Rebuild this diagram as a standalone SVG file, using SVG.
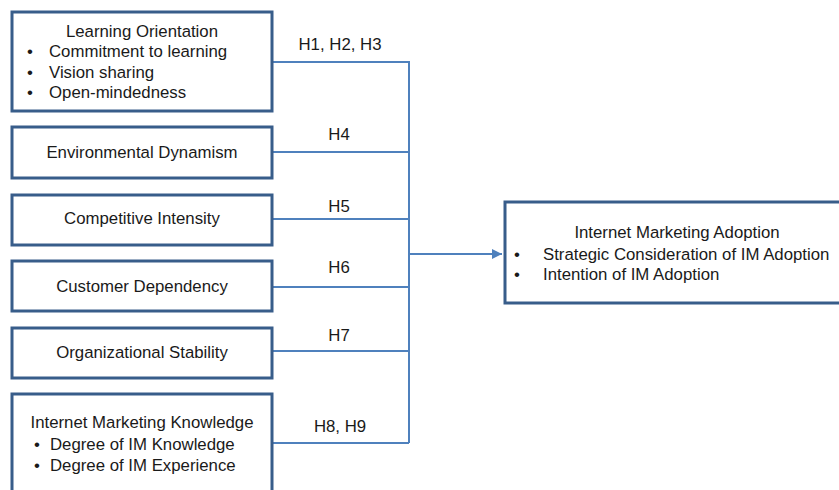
<svg xmlns="http://www.w3.org/2000/svg" width="839" height="490" viewBox="0 0 839 490">
<defs>
<style>
.box{fill:#fff;stroke:#385D8A;stroke-width:3}
.t{font-family:"Liberation Sans",Arial,sans-serif;font-size:16.8px;fill:#1a1a1a}
.c{text-anchor:middle}
.ln{fill:none;stroke:#4F81BD;stroke-width:2}
</style>
<marker id="ah" viewBox="0 0 10 10" refX="10" refY="5" markerWidth="5" markerHeight="5" orient="auto" markerUnits="strokeWidth">
<path d="M0,0 L10,5 L0,10 z" fill="#4F81BD"/>
</marker>
</defs>
<rect width="839" height="490" fill="#fff"/>
<g id="connectors">
<path class="ln" d="M272,62 H409 V443 M272,152 H409 M272,219 H409 M272,287 H409 M272,351 H409 M272,443 H409"/>
<path class="ln" d="M409,254 H502" marker-end="url(#ah)"/>
<text class="t c" x="340" y="50">H1, H2, H3</text>
<text class="t c" x="339" y="140">H4</text>
<text class="t c" x="339" y="212">H5</text>
<text class="t c" x="339" y="273">H6</text>
<text class="t c" x="339" y="341">H7</text>
<text class="t c" x="340" y="432">H8, H9</text>
</g>
<g id="learning">
<rect class="box" x="12" y="12" width="260" height="99"/>
<text class="t c" x="142" y="37">Learning Orientation</text>
<text class="t" x="27" y="57">•</text><text class="t" x="49" y="57">Commitment to learning</text>
<text class="t" x="27" y="78">•</text><text class="t" x="49" y="78">Vision sharing</text>
<text class="t" x="27" y="98">•</text><text class="t" x="49" y="98">Open-mindedness</text>
</g>
<g id="env">
<rect class="box" x="12" y="127" width="260" height="51"/>
<text class="t c" x="142" y="158">Environmental Dynamism</text>
</g>
<g id="comp">
<rect class="box" x="12" y="195" width="260" height="50"/>
<text class="t c" x="142" y="224">Competitive Intensity</text>
</g>
<g id="cust">
<rect class="box" x="12" y="261" width="260" height="50"/>
<text class="t c" x="142" y="292">Customer Dependency</text>
</g>
<g id="org">
<rect class="box" x="12" y="328" width="260" height="50"/>
<text class="t c" x="142" y="358">Organizational Stability</text>
</g>
<g id="imk">
<rect class="box" x="12" y="394" width="260" height="110"/>
<text class="t c" x="142" y="428">Internet Marketing Knowledge</text>
<text class="t" x="34" y="450">•</text><text class="t" x="50" y="450">Degree of IM Knowledge</text>
<text class="t" x="34" y="471">•</text><text class="t" x="50" y="471">Degree of IM Experience</text>
</g>
<g id="ima">
<rect class="box" x="505" y="202" width="345" height="101"/>
<text class="t c" x="677" y="238">Internet Marketing Adoption</text>
<text class="t" x="514" y="260">•</text><text class="t" x="543" y="260">Strategic Consideration of IM Adoption</text>
<text class="t" x="514" y="280">•</text><text class="t" x="543" y="280">Intention of IM Adoption</text>
</g>
</svg>
